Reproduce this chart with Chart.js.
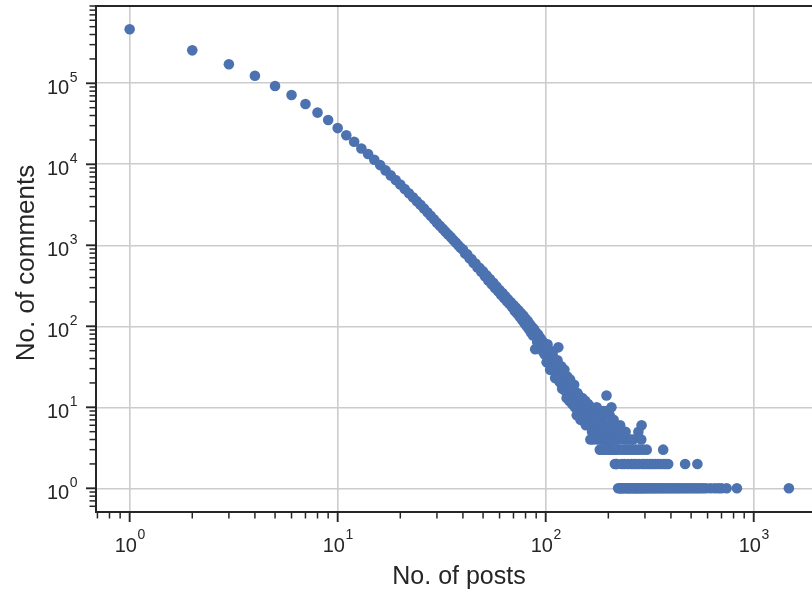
<!DOCTYPE html>
<html>
<head>
<meta charset="utf-8">
<script src="https://cdn.jsdelivr.net/npm/chart.js@4.4.1/dist/chart.umd.min.js"></script>
<style>
  html, body { margin: 0; padding: 0; background: #fff; }
  #wrap { width: 812px; height: 593px; }
</style>
</head>
<body>
<div id="wrap"><canvas id="myChart" width="812" height="593"></canvas></div>
<script>
// first posts counts, far apart on the log axis
var headPosts = [1, 2, 3, 4, 5, 6, 7, 8, 9, 10, 11, 12, 13, 14];
var headComments = [464000, 255000, 172000, 124000, 92600, 71600, 55500, 43500, 35200, 28000, 22800, 19000, 15700, 13400];

// the dense part of the curve
var bodyPosts = [15, 16, 17, 18, 19, 20, 21, 22, 23, 24, 25, 26, 27, 28, 29, 30, 31, 32, 33, 34,
  35, 36, 37, 38, 39, 40, 41, 42, 43, 44, 45, 46, 47, 48, 49, 50, 51, 52, 53, 54,
  55, 56, 57, 58, 59, 60, 61, 62, 63, 64, 65, 66, 67, 68, 69, 70, 71, 72, 73, 74,
  75, 76, 77, 78, 79, 80, 81, 82, 83, 84, 85, 86, 87, 88, 89, 90, 91, 92, 93, 94,
  95, 96, 97, 98, 99, 100, 101, 102, 103, 104, 105, 106, 107, 108, 109, 110, 111, 112, 113, 114,
  115, 116, 117, 118, 119, 120, 121, 122, 123, 124, 125, 126, 127, 128, 129, 130, 131, 132, 133, 134,
  135, 136, 137, 138, 139, 140, 141, 142, 143, 144, 145, 146, 147];
var bodyComments = [11380, 9770, 8410, 7290, 6380, 5620, 4960, 4390, 3920, 3510,
  3160, 2840, 2550, 2310, 2090, 1905, 1745, 1600, 1475, 1360,
  1260, 1165, 1080, 1003, 933, 885, 790, 772, 690, 675,
  605, 596, 533, 527, 470, 476, 415, 425, 368, 382,
  331, 344, 298, 311, 270, 281, 245, 257, 224, 235,
  204, 215, 188, 198, 172, 183, 155, 170, 144, 158,
  131, 146, 120, 136, 109, 125, 100, 116, 92, 106,
  84, 98, 77, 92, 52, 84, 64, 79, 60, 72,
  54, 67, 49, 62, 45, 58, 36, 60, 40, 51,
  29, 43, 30, 46, 32, 39, 23, 38, 26, 38,
  55, 21, 30, 20, 32, 17, 26, 19, 29, 16,
  23, 13, 24, 15, 20, 12, 22, 14, 19, 11,
  17, 12, 19, 10, 15, 10, 8, 15, 9, 14,
  10, 12, 7];

// scattered part where counts get small
var tailPosts = [148, 149, 150, 151, 152, 153, 154, 155, 156, 157,
  158, 159, 160, 161, 162, 163, 164, 165, 166, 167,
  168, 169, 170, 171, 172, 173, 174, 175, 176, 177,
  178, 179, 180, 181, 182, 183, 184, 185, 186, 187,
  188, 189, 190, 191, 192, 193, 194, 195, 196, 197,
  198, 199, 200, 201, 202, 203, 204, 205, 206, 207,
  208, 209, 210, 211, 212, 213, 214, 215, 216, 217,
  218, 219, 220, 221];
var tailComments = [11, 9, 13, 12, 8, 9, 11, 12, 6, 8,
  10, 7, 11, 9, 6, 7, 4, 8, 10, 5,
  9, 4, 6, 9, 5, 8, 6, 5, 10, 4,
  6, 5, 9, 5, 3, 6, 4, 8, 3, 7,
  4, 6, 9, 3, 4, 8, 4, 5, 14, 3,
  9, 4, 6, 3, 4, 8, 3, 4, 6, 10,
  4, 5, 3, 3, 7, 3, 5, 2, 6, 3,
  2, 3, 2, 4];

// rows at the bottom: posts values that got 1, 2, ... 6 comments
var rowLevels = [1, 2, 3, 4, 5, 6];
var postsWith1 = [223, 227, 230, 233, 236, 241, 246, 250, 253, 257, 262, 266, 270, 274, 278, 282, 287, 291,
  296, 302, 307, 313, 319, 325, 331, 338, 345, 352, 360, 368, 376, 384, 393, 402, 411, 421, 431, 441,
  452, 463, 475, 487, 500, 513, 527, 541, 556, 571, 590, 620, 650, 676, 700, 741, 830, 1476];
var postsWith2 = [232, 239, 249, 258, 265, 272, 281, 292, 300, 309, 318, 327, 337, 347, 358, 370, 379, 388, 468, 536];
var postsWith3 = [229, 237, 244, 251, 259, 267, 275, 283, 294, 306, 367];
var postsWith4 = [226, 238, 247, 256, 263, 288];
var postsWith5 = [224, 234, 242, 279];
var postsWith6 = [228, 289];

var xTicks = [1, 10, 100, 1000];
var yTicks = [1, 10, 100, 1000, 10000, 100000];

var points = [];
function addPoints(xs, ys) {
    for (var i = 0; i < xs.length; i++) {
        points.push({x: xs[i], y: ys[i]});
    }
}
addPoints(headPosts, headComments);
addPoints(bodyPosts, bodyComments);
addPoints(tailPosts, tailComments);
[postsWith1, postsWith2, postsWith3, postsWith4, postsWith5, postsWith6].forEach(function(row, k) {
    row.forEach(function(p) { points.push({x: p, y: rowLevels[k]}); });
});

var ink = '#262626';
var fontName = '"Liberation Sans", Arial, sans-serif';

// log ticks 1..9 x 10^k, the 1s are major
function logTicks(scale) {
    var list = [];
    var lo = Math.floor(Math.log10(scale.min));
    var hi = Math.ceil(Math.log10(scale.max));
    for (var k = lo; k <= hi; k++) {
        for (var m = 1; m <= 9; m++) {
            var v = m * Math.pow(10, k);
            if (v >= scale.min && v <= scale.max) list.push({value: v, major: m === 1});
        }
    }
    scale.ticks = list;
}

function drawPow(c, v, x, baseY, supY, align) {
    var e = String(Math.round(Math.log10(v)));
    c.font = '20px ' + fontName;
    var wb = c.measureText('10').width;
    c.font = '14px ' + fontName;
    var we = c.measureText(e).width;
    var x0 = align === 'center' ? x - (wb + we) / 2 : x - (wb + we);
    c.font = '20px ' + fontName;
    c.fillText('10', x0, baseY);
    c.font = '14px ' + fontName;
    c.fillText(e, x0 + wb + 0.5, supY);
}

var axesDecor = {
    id: 'axesDecor',
    beforeDraw: function(chart) {
        var c = chart.ctx;
        c.save();
        c.fillStyle = '#ffffff';
        c.fillRect(0, 0, chart.width, chart.height);
        c.restore();
    },
    afterDraw: function(chart) {
        var c = chart.ctx, a = chart.chartArea;
        var xs = chart.scales.x, ys = chart.scales.y;
        c.save();
        c.strokeStyle = ink;
        c.fillStyle = ink;
        c.lineWidth = 2;
        c.beginPath();
        c.moveTo(a.right + 2, a.top);
        c.lineTo(a.left, a.top);
        c.lineTo(a.left, a.bottom);
        c.lineTo(a.right + 2, a.bottom);
        c.stroke();

        xs.ticks.forEach(function(t) {
            var p = xs.getPixelForValue(t.value);
            c.lineWidth = t.major ? 1.9 : 1.5;
            c.beginPath();
            c.moveTo(p, a.bottom);
            c.lineTo(p, a.bottom + (t.major ? 10 : 6.5));
            c.stroke();
        });
        ys.ticks.forEach(function(t) {
            var p = ys.getPixelForValue(t.value);
            c.lineWidth = t.major ? 1.9 : 1.5;
            c.beginPath();
            c.moveTo(a.left, p);
            c.lineTo(a.left - (t.major ? 10 : 6.5), p);
            c.stroke();
        });

        c.textAlign = 'left';
        c.textBaseline = 'alphabetic';
        xTicks.forEach(function(v) {
            drawPow(c, v, xs.getPixelForValue(v), a.bottom + 40, a.bottom + 27, 'center');
        });
        yTicks.forEach(function(v) {
            var p = ys.getPixelForValue(v);
            drawPow(c, v, a.left - 19, p + 11, p - 1.5, 'right');
        });

        c.textAlign = 'center';
        c.font = '25px ' + fontName;
        c.fillText('No. of posts', 459, 583.5);
        c.translate(33.5, 263);
        c.rotate(-Math.PI / 2);
        c.font = '26px ' + fontName;
        c.fillText('No. of comments', 0, 0);
        c.restore();
    }
};

var gridColor = function(ctx) {
    return ctx.tick && ctx.tick.major ? '#cccccc' : 'rgba(0,0,0,0)';
};

var ctx = document.getElementById('myChart').getContext('2d');
var myChart = new Chart(ctx, {
    type: 'scatter',
    data: {
        datasets: [{
            data: points,
            backgroundColor: '#4C72B0',
            borderWidth: 0,
            pointRadius: 5.3,
            pointHoverRadius: 5.3
        }]
    },
    options: {
        responsive: false,
        animation: false,
        devicePixelRatio: 1,
        layout: { autoPadding: false, padding: { left: 96, right: 0, top: 6, bottom: 81 } },
        plugins: { legend: { display: false }, tooltip: { enabled: false } },
        events: [],
        scales: {
            x: {
                type: 'logarithmic',
                min: 0.689,
                max: 1906,
                afterBuildTicks: logTicks,
                ticks: { display: false },
                border: { display: false },
                title: { display: false },
                grid: { color: gridColor, lineWidth: 1.6, drawTicks: false }
            },
            y: {
                type: 'logarithmic',
                min: 0.51,
                max: 900000,
                afterBuildTicks: logTicks,
                ticks: { display: false },
                border: { display: false },
                title: { display: false },
                grid: { color: gridColor, lineWidth: 1.6, drawTicks: false }
            }
        }
    },
    plugins: [axesDecor]
});
</script>
</body>
</html>
